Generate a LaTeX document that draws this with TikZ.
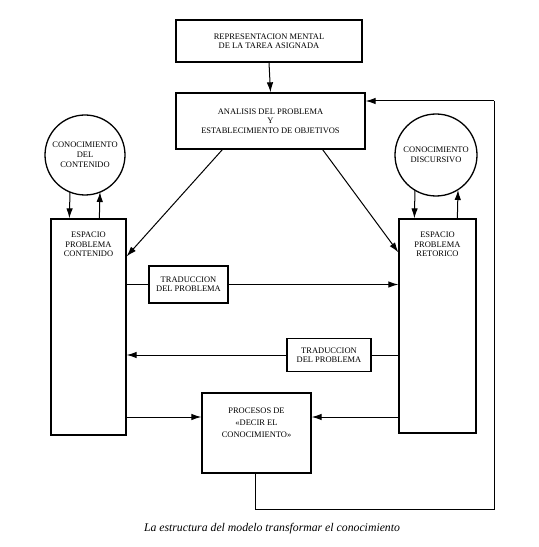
\documentclass[tikz,border=0pt]{standalone}
\usepackage{fontspec}
\setmainfont{Liberation Serif}
\usetikzlibrary{arrows.meta,calc}
\tikzset{
  box/.style={draw, line width=1.3bp, inner sep=0pt, font=\fontsize{8.5}{9.5}\selectfont, align=center},
  circ/.style={draw, circle, line width=1.3bp, inner sep=0pt, font=\fontsize{8.5}{10}\selectfont, align=center},
  lbl/.style={inner sep=0pt, font=\fontsize{8.5}{9.5}\selectfont, align=center},
  arr/.style={line width=1bp, -{Latex[length=10bp,width=6.5bp]}},
  ln/.style={line width=1bp},
}
\begin{document}
\begin{tikzpicture}[x=1bp,y=-1bp]
\useasboundingbox (0,0) rectangle (539,547);
% boxes
\node[box, minimum width=186bp, minimum height=42bp] (top) at (269,41) {REPRESENTACION MENTAL\\DE LA TAREA ASIGNADA};
\node[box, minimum width=189bp, minimum height=56bp] (anal) at (270.5,121) {ANALISIS DEL PROBLEMA\\Y\\ESTABLECIMIENTO DE OBJETIVOS};
\node[circ, minimum size=80bp] (circL) at (85,155) {CONOCIMIENTO\\DEL\\CONTENIDO};
\node[circ, minimum size=82bp] (circR) at (436,155) {CONOCIMIENTO\\DISCURSIVO};
\node[box, minimum width=75bp, minimum height=216bp] (boxL) at (88.5,327) {};
\node[lbl, anchor=north] (boxLt) at (88.5,232) {ESPACIO\\PROBLEMA\\CONTENIDO};
\node[box, minimum width=77bp, minimum height=214bp] (boxR) at (437.5,326) {};
\node[lbl, anchor=north] (boxRt) at (437.5,232) {ESPACIO\\PROBLEMA\\RETORICO};
\node[box, minimum width=79bp, minimum height=37bp] (trad1) at (188.5,284.5) {TRADUCCION\\DEL PROBLEMA};
\node[box, minimum width=84bp, minimum height=33bp] (trad2) at (329,355) {TRADUCCION\\DEL PROBLEMA};
\node[box, minimum width=109bp, minimum height=80bp] (proc) at (256.5,433) {};
\node[lbl, anchor=north, font=\fontsize{8.5}{12}\selectfont] (proct) at (256.5,408) {PROCESOS DE\\«DECIR EL\\CONOCIMIENTO»};
% caption
\node[inner sep=0pt, font=\fontsize{11.8}{13}\itshape] (cap) at (272,529) {La estructura del modelo transformar el conocimiento};
% coordinates
\coordinate (fbA) at (255,509);
\coordinate (fbB) at (494,509);
\coordinate (fbC) at (494,101);
% connectors
\draw[arr] (top.south) -- (anal.north);
\draw[ln] (proc.south -| fbA) -- (fbA) -- (fbB) -- (fbC);
\draw[arr] (fbC) -- (anal.east |- fbC);
\draw[arr] ($(anal.south west)+(47,0)$) -- ($(boxL.north east)+(0,38)$);
\draw[arr] ($(anal.south east)+(-43,0)$) -- ($(boxR.north west)+(0,34)$);
% circle links
\draw[arr] ($(circL.center)+(-15,37)$) -- ($(boxL.north west)+(19,0)$);
\draw[arr] ($(boxL.north west)+(49,0)$) -- ($(circL.center)+(15,37)$);
\draw[arr] ($(circR.center)+(-21,35)$) -- ($(boxR.north west)+(16,0)$);
\draw[arr] ($(boxR.north west)+(59,0)$) -- ($(circR.center)+(22,35)$);
% traduccion
\draw[ln] (boxL.east |- trad1.west) -- (trad1.west);
\draw[arr] (trad1.east) -- (boxR.west |- trad1.east);
\draw[ln] (boxR.west |- trad2.east) -- (trad2.east);
\draw[arr] (trad2.west) -- (boxL.east |- trad2.west);
% procesos
\coordinate (pl) at (0,417);
\draw[arr] (boxL.east |- pl) -- (proc.west |- pl);
\draw[arr] (boxR.west |- pl) -- (proc.east |- pl);
\end{tikzpicture}
\end{document}
